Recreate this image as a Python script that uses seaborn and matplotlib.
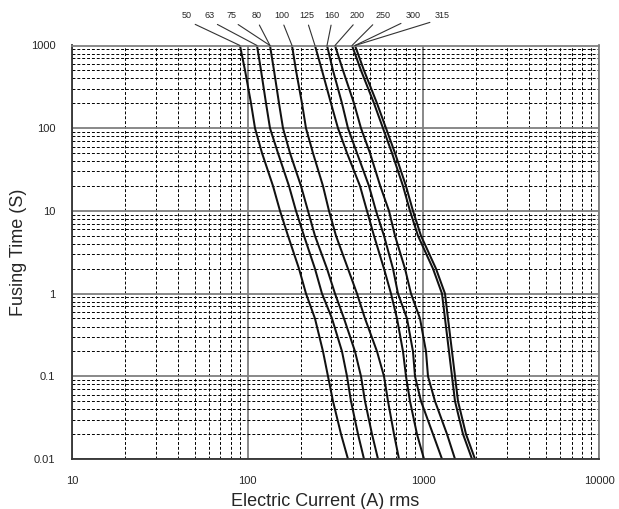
import numpy as np
import pandas as pd
import matplotlib
matplotlib.use("Agg")
import matplotlib.pyplot as plt
import seaborn as sns

# Fusing time (s) sample points
times = [1000, 500, 200, 100, 50, 20, 10, 5, 2, 1, 0.5, 0.2, 0.1, 0.05, 0.02, 0.01]

# Current (A rms) per fuse-rating curve at the above times
i_50 = [90.4, 96.6, 104.5, 110.1, 120.7, 139.4, 152.8, 169.7, 196.0, 214.8,
        241.6, 268.4, 286.6, 306.0, 339.9, 372.4]
i_63 = [113.0, 119.1, 127.2, 134.0, 148.8, 171.9, 188.4, 209.2, 241.6, 264.9,
        302.0, 344.3, 367.7, 387.4, 424.7, 459.4]
i_80 = [134.0, 141.2, 150.8, 158.9, 174.2, 201.2, 220.5, 241.6, 282.9, 314.1,
        353.5, 408.3, 441.7, 465.5, 510.2, 552.0]
i_100 = [178.8, 188.4, 203.8, 214.8, 235.4, 268.4, 290.4, 318.3, 372.4, 419.1,
         465.5, 544.8, 597.2, 629.3, 680.8, 726.9]
i_125 = [241.6, 264.9, 298.1, 326.7, 367.7, 436.0, 477.8, 523.8, 597.2, 654.5,
         708.0, 766.0, 796.7, 839.6, 920.0, 1008.8]
i_160 = [282.9, 306.0, 344.3, 372.4, 419.1, 490.5, 537.7, 597.2, 672.0, 717.4,
         807.0, 873.0, 896.5, 969.8, 1135.0, 1277.1]
i_200 = [314.1, 348.9, 403.0, 441.7, 497.0, 568.6, 637.6, 689.8, 786.4, 850.7,
         957.2, 1035.5, 1063.0, 1165.1, 1363.6, 1514.4]
i_250 = [392.6, 441.7, 523.8, 589.3, 663.1, 766.0, 839.6, 932.4, 1135.0, 1277.1,
         1328.3, 1399.8, 1456.0, 1514.4, 1681.8, 1892.3]
i_315 = [408.3, 459.4, 544.8, 613.0, 689.8, 796.7, 873.0, 969.8, 1180.5, 1328.3,
         1381.6, 1456.0, 1514.4, 1575.1, 1749.2, 1968.2]

curve_names = ["50", "63", "80", "100", "125", "160", "200", "250", "315"]
curve_values = [i_50, i_63, i_80, i_100, i_125, i_160, i_200, i_250, i_315]

# Rating labels and the curve each one points to
rating_labels = ["50", "63", "75", "80", "100", "125", "160", "200", "250", "300", "315"]
label_targets = ["50", "63", "80", "80", "100", "125", "160", "200", "250", "315", "315"]

x_ticks = [10, 100, 1000, 10000]
x_ticklabels = ["10", "100", "1000", "10000"]
y_ticks = [0.01, 0.1, 1, 10, 100, 1000]
y_ticklabels = ["0.01", "0.1", "1", "10", "100", "1000"]

rows = []
for name, vals in zip(curve_names, curve_values):
    for t, c in zip(times, vals):
        rows.append({"rating": name, "current": c, "time": t})
df = pd.DataFrame(rows)

sns.set_style("white")
plt.rcParams["font.family"] = ["Liberation Sans", "DejaVu Sans"]

fig = plt.figure(figsize=(6.19, 5.09), dpi=100)
ax = fig.add_axes([72/619, 1-459/509, (599-72)/619, (459-45.5)/509])

sns.lineplot(data=df, x="current", y="time", hue="rating", units="rating",
             estimator=None, sort=False, palette=["#111111"]*len(curve_names),
             linewidth=1.45, legend=False, ax=ax)
for ln in ax.lines:
    ln.set_solid_joinstyle("round")

ax.set_xscale("log")
ax.set_yscale("log")
ax.set_xlim(10, 10000)
ax.set_ylim(0.01, 1000)
ax.set_xticks(x_ticks)
ax.set_xticklabels(x_ticklabels)
ax.set_yticks(y_ticks)
ax.set_yticklabels(y_ticklabels)
ax.xaxis.set_minor_locator(matplotlib.ticker.LogLocator(base=10, subs=np.arange(2, 10)))
ax.yaxis.set_minor_locator(matplotlib.ticker.LogLocator(base=10, subs=np.arange(2, 10)))
ax.xaxis.set_minor_formatter(matplotlib.ticker.NullFormatter())
ax.yaxis.set_minor_formatter(matplotlib.ticker.NullFormatter())
ax.tick_params(which="both", length=0)
ax.tick_params(axis="y", pad=12, labelsize=8)
ax.tick_params(axis="x", pad=12, labelsize=8)

ax.grid(True, which="major", color="#7f7f7f", linewidth=1.3, linestyle="-")
ax.grid(True, which="minor", color="#000000", linewidth=0.7, linestyle=(0, (3, 2)))
ax.set_axisbelow(True)

for side in ["top", "right"]:
    ax.spines[side].set_color("#7f7f7f")
    ax.spines[side].set_linewidth(1.3)
for side in ["left", "bottom"]:
    ax.spines[side].set_color("#333333")
    ax.spines[side].set_linewidth(1.3)

ax.set_xlabel("Electric Current (A) rms", fontsize=13, labelpad=3)
ax.xaxis.set_label_coords((325 - 72) / (599 - 72), -34 / (459 - 45.5))
ax.set_ylabel("Fusing Time (S)", fontsize=13, labelpad=3)

# labels with leader lines to the curve tops
top_of = {n: v[0] for n, v in zip(curve_names, curve_values)}
label_x_px = [187, 210, 232, 257, 282, 307, 332, 357, 383, 413, 442]
for lab, tgt, px in zip(rating_labels, label_targets, label_x_px):
    rel = (0.5, 0.0) if lab not in ("250", "300", "315") else (0.1, 0.0)
    ax.annotate(lab, xy=(top_of[tgt], 1000), xycoords="data",
                xytext=(px, 509-16), textcoords="figure pixels",
                ha="center", va="center", fontsize=6.5,
                annotation_clip=False,
                arrowprops=dict(arrowstyle="-", color="#333333", lw=0.8,
                                shrinkA=1, shrinkB=0, relpos=rel))

fig.savefig("out.png", dpi=100)
